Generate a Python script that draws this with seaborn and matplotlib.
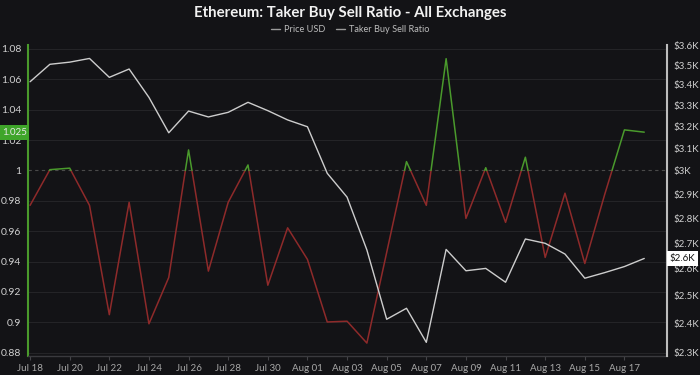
import matplotlib
matplotlib.use("Agg")
import matplotlib.pyplot as plt
import matplotlib.dates as mdates
from matplotlib.lines import Line2D
from matplotlib.ticker import FixedLocator, FuncFormatter, NullLocator
import numpy as np
import pandas as pd
import seaborn as sns

# daily values
dates = pd.date_range("2024-07-18", "2024-08-18", freq="D")
ratio = [0.977, 1.0005, 1.0015, 0.977, 0.905, 0.979, 0.899, 0.9295, 1.0135, 0.9337,
         0.979, 1.0036, 0.9244, 0.9622, 0.9414, 0.9002, 0.9007, 0.8863, 0.946, 1.0058,
         0.977, 1.0736, 0.9684, 1.0018, 0.9658, 1.0087, 0.9427, 0.985, 0.9387, 0.984,
         1.0267, 1.0252]
price = [3416, 3504, 3515, 3534, 3438, 3480, 3339, 3171, 3273, 3245,
         3267, 3315, 3275, 3231, 3199, 2989, 2887, 2673, 2416, 2455,
         2336, 2675, 2593, 2602, 2550, 2716, 2699, 2657, 2565, 2586,
         2609, 2640]
ratio_ticks = [0.88, 0.9, 0.92, 0.94, 0.96, 0.98, 1.0, 1.02, 1.04, 1.06, 1.08]
price_ticks = list(range(2300, 3700, 100))
tick_dates = pd.date_range("2024-07-18", "2024-08-17", freq="2D")

BG = "#131316"
GREEN = "#4a9a2c"
RED = "#8e2a2a"
TXT = "#d0d0d0"

# split the ratio line into runs above / below 1.0 so each run gets its colour
rows = []
seg = 0
side = "up" if ratio[0] >= 1 else "down"
rows.append((dates[0], ratio[0], seg, side))
for i in range(len(ratio) - 1):
    a, b = ratio[i], ratio[i + 1]
    if (a - 1) * (b - 1) < 0:
        frac = (1 - a) / (b - a)
        tc = dates[i] + (dates[i + 1] - dates[i]) * frac
        rows.append((tc, 1.0, seg, side))
        seg += 1
        side = "up" if b >= 1 else "down"
        rows.append((tc, 1.0, seg, side))
    rows.append((dates[i + 1], b, seg, side))
df = pd.DataFrame(rows, columns=["date", "ratio", "seg", "side"])

sns.set_theme(style="dark")
plt.rcParams["font.family"] = ["Lato", "DejaVu Sans"]

fig = plt.figure(figsize=(7, 3.75), dpi=100, facecolor=BG)
ax = fig.add_axes([0.04, 0.0507, 0.9129, 0.8293])
ax.set_facecolor(BG)
ax2 = ax.twinx()

# ratio grid and the 1.0 reference line
for v in ratio_ticks:
    if v != 1.0:
        ax.axhline(v, color="#242427", lw=0.8, zorder=0)
ax.axhline(1.0, color="#4a4a4a", lw=0.8, ls=(0, (3, 3)), zorder=0)

sns.lineplot(data=df, x="date", y="ratio", hue="side", units="seg", estimator=None,
             sort=False, palette={"up": GREEN, "down": RED}, legend=False,
             linewidth=1.1, ax=ax)
sns.lineplot(x=dates, y=price, color="#cdcdcd", linewidth=1.0, ax=ax2)

ax.set_ylim(0.8778, 1.0826)
ax.set_yticks(ratio_ticks)
ax.set_yticklabels([f"{v:g}" for v in ratio_ticks])
ax2.set_yscale("log")
ax2.set_ylim(2290, 3604)
ax2.yaxis.set_major_locator(FixedLocator(price_ticks))
ax2.yaxis.set_major_formatter(FuncFormatter(lambda v, p: f"${v / 1000:g}K"))
ax2.yaxis.set_minor_locator(NullLocator())

ax.set_xlim(dates[0] - pd.Timedelta(hours=2.5), dates[0] + pd.Timedelta(days=32.15))
ax.xaxis.set_major_locator(FixedLocator(mdates.date2num(tick_dates)))
ax.xaxis.set_major_formatter(mdates.DateFormatter("%b %d"))

ax.set_xlabel("")
ax.set_ylabel("")
ax2.set_ylabel("")
ax.grid(False)
ax2.grid(False)

ax.tick_params(axis="y", colors=TXT, labelsize=7.5, length=0, pad=5)
ax.tick_params(axis="x", colors="#444448", labelcolor="#a8a8a8", labelsize=7,
               length=3, width=0.8, pad=3, bottom=True)
ax2.tick_params(axis="y", colors=TXT, labelsize=7, length=0, pad=4.5)

for a in (ax, ax2):
    for s in a.spines.values():
        s.set_visible(False)
ax.spines["left"].set_visible(True)
ax.spines["left"].set_color(GREEN)
ax.spines["left"].set_linewidth(1.5)
ax.spines["bottom"].set_visible(True)
ax.spines["bottom"].set_color("#3a3a3e")
ax.spines["bottom"].set_linewidth(1.0)
ax2.spines["right"].set_visible(True)
ax2.spines["right"].set_color("#bdbdbd")
ax2.spines["right"].set_linewidth(1.5)

# last-value badges
ax.annotate(f"{ratio[-1]:.3f}", xy=(0, ratio[-1]), xycoords=("axes fraction", "data"),
            xytext=(-10, 0), textcoords="offset points", ha="center", va="center",
            fontsize=7, color="#e8e8e8",
            bbox=dict(boxstyle="square,pad=0.3", fc="#3fa52a", ec="none"))
ax2.annotate(f"${price[-1] / 1000:.1f}K", xy=(1, price[-1]), xycoords=("axes fraction", "data"),
             xytext=(11, 0), textcoords="offset points", ha="center", va="center",
             fontsize=7, color="#111111",
             bbox=dict(boxstyle="square,pad=0.3", fc="#ffffff", ec="none"))

fig.text(0.5, 0.965, "Ethereum: Taker Buy Sell Ratio - All Exchanges", ha="center",
         va="center", fontsize=10.8, fontweight="bold", color="#f2f2f2")
handles = [Line2D([], [], color="#9a9a9a", lw=1), Line2D([], [], color="#9a9a9a", lw=1)]
fig.legend(handles, ["Price USD", "Taker Buy Sell Ratio"], loc="center",
           bbox_to_anchor=(0.5, 0.922), ncol=2, frameon=False, fontsize=6.6,
           labelcolor="#bdbdbd", handlelength=1.0, handletextpad=0.4, columnspacing=1.2)

fig.savefig("out.png", dpi=100, facecolor=BG)
